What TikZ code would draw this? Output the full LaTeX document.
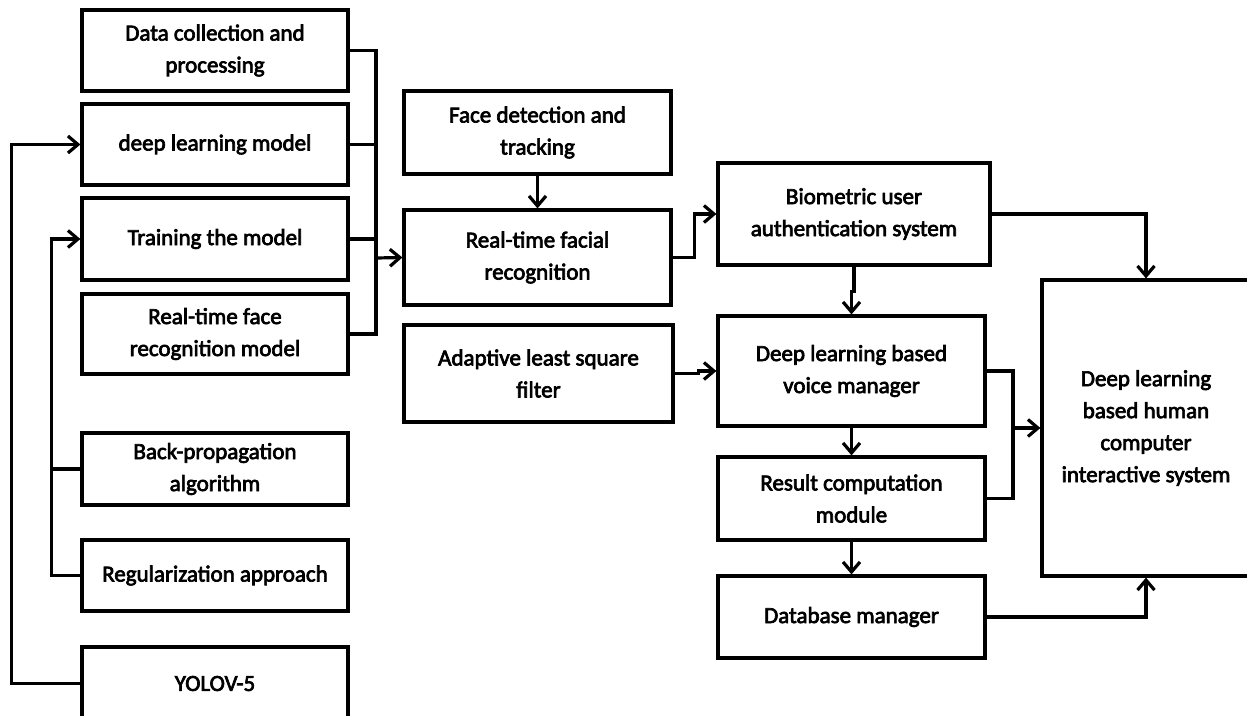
\documentclass[tikz,border=0pt]{standalone}
\usepackage{fontspec}
\setmainfont{Carlito}[FakeBold=3]
\usetikzlibrary{arrows.meta}

\tikzset{
	box/.style={draw, line width=3.2pt, align=center, inner sep=0pt, font=\fontsize{23}{32}\selectfont},
	link/.style={line width=3.2pt},
	arr/.style={line width=3.2pt, -{Straight Barb[length=10pt,width=17pt]}}
}

\begin{document}
\begin{tikzpicture}[x=1pt, y=-1pt]

	\useasboundingbox (0,0) rectangle (1247,715);

	% left column
	\node[box, minimum width=266, minimum height=81] (data) at (215,50.5) {Data collection and\\processing};
	\node[box, minimum width=266, minimum height=81] (dlm) at (215,144.5) {deep learning model};
	\node[box, minimum width=266, minimum height=82] (train) at (215,239) {Training the model};
	\node[box, minimum width=266, minimum height=80] (rtfrm) at (215,334) {Real-time face\\recognition model};
	\node[box, minimum width=266, minimum height=72] (backprop) at (215,469) {Back-propagation\\algorithm};
	\node[box, minimum width=266, minimum height=71] (reg) at (215,575.5) {Regularization approach};
	\node[box, minimum width=266, minimum height=73] (yolo) at (215,683.5) {YOLOV-5};

	% middle column
	\node[box, minimum width=267, minimum height=83] (facedet) at (537.5,132.5) {Face detection and\\tracking};
	\node[box, minimum width=267, minimum height=95] (rtfacial) at (537.5,257.5) {Real-time facial\\recognition};
	\node[box, minimum width=269, minimum height=97] (alsf) at (538.5,373.5) {Adaptive least square\\filter};

	% right column
	\node[box, minimum width=272, minimum height=102] (bio) at (854,214) {Biometric user\\authentication system};
	\node[box, minimum width=267, minimum height=110] (voice) at (851.5,371) {Deep learning based\\voice manager};
	\node[box, minimum width=267, minimum height=83] (result) at (851.5,498.5) {Result computation\\module};
	\node[box, minimum width=267, minimum height=82] (db) at (851.5,617) {Database manager};
	\node[box, minimum width=208, minimum height=296] (hci) at (1146,428) {Deep learning\\based human\\computer\\interactive system};

	\coordinate (bus) at (376,258);
	\coordinate (vbus) at (1013,428);

	\foreach \n in {data, dlm, train, rtfrm}
	{
		\draw[link] (\n.east) -| (bus);
	};
	\draw[arr] (bus) -- (rtfacial.west);

	\draw[arr] (yolo.west) -- ++(-69,0) |- (dlm.west);
	\draw[arr] (reg.west) -- ++(-29,0) |- (train.west);
	\draw[link] (backprop.west) -- ++(-29,0);

	\draw[arr] (facedet.south) -- (rtfacial.north);
	\draw[arr] (rtfacial.east) -- ++(22,0) |- (bio.west);
	\draw[arr] (alsf.east) -- ++(24,0) |- (voice.west);

	\draw[arr] (bio.south) -- ++(0,25) -| (voice.north);
	\draw[arr] (bio.east) -| (hci.north);
	\draw[arr] (voice.south) -- (result.north);
	\draw[arr] (result.south) -- (db.north);

	\foreach \n in {voice, result}
	{
		\draw[link] (\n.east) -| (vbus);
	};
	\draw[arr] (vbus) -- (hci.west);
	\draw[arr] (db.east) -| (hci.south);

\end{tikzpicture}
\end{document}
